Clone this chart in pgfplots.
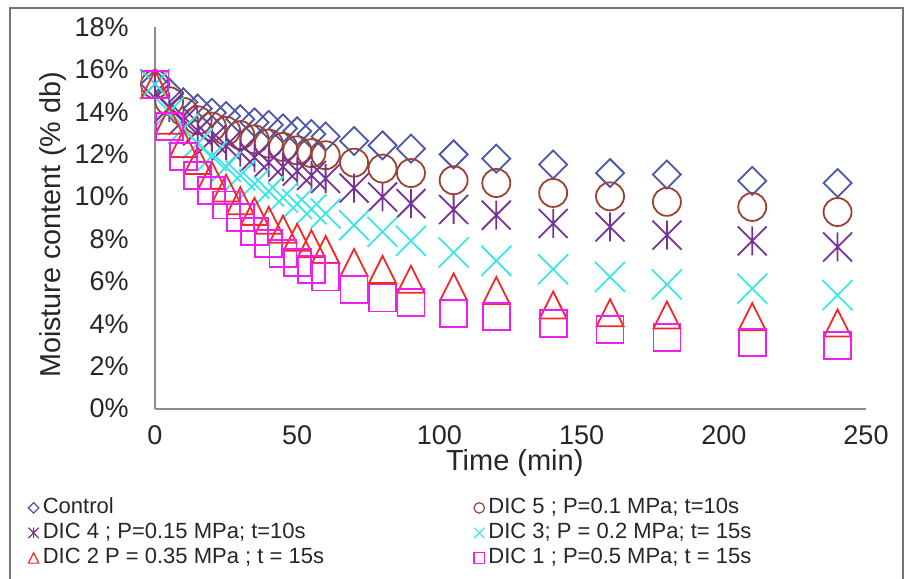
\documentclass[border=0pt]{standalone}
\usepackage{fontspec}
\setmainfont{Liberation Sans}
\usepackage{pgfplots}
\pgfplotsset{compat=1.18}
\usepackage{pgfplotstable}

\pgfdeclareplotmark{mydiamond}{%
  \pgfpathmoveto{\pgfqpoint{0pt}{\pgfplotmarksize}}%
  \pgfpathlineto{\pgfqpoint{\pgfplotmarksize}{0pt}}%
  \pgfpathlineto{\pgfqpoint{0pt}{-\pgfplotmarksize}}%
  \pgfpathlineto{\pgfqpoint{-\pgfplotmarksize}{0pt}}%
  \pgfpathclose\pgfusepathqstroke}
\pgfdeclareplotmark{mytri}{%
  \pgfpathmoveto{\pgfqpoint{0pt}{\pgfplotmarksize}}%
  \pgfpathlineto{\pgfqpoint{\pgfplotmarksize}{-\pgfplotmarksize}}%
  \pgfpathlineto{\pgfqpoint{-\pgfplotmarksize}{-\pgfplotmarksize}}%
  \pgfpathclose\pgfusepathqstroke}
\pgfdeclareplotmark{mystar}{%
  \pgfpathmoveto{\pgfqpoint{0pt}{\pgfplotmarksize}}%
  \pgfpathlineto{\pgfqpoint{0pt}{-\pgfplotmarksize}}%
  \pgfpathmoveto{\pgfqpoint{\pgfplotmarksize}{\pgfplotmarksize}}%
  \pgfpathlineto{\pgfqpoint{-\pgfplotmarksize}{-\pgfplotmarksize}}%
  \pgfpathmoveto{\pgfqpoint{-\pgfplotmarksize}{\pgfplotmarksize}}%
  \pgfpathlineto{\pgfqpoint{\pgfplotmarksize}{-\pgfplotmarksize}}%
  \pgfusepathqstroke}
\pgfdeclareplotmark{myx}{%
  \pgfpathmoveto{\pgfqpoint{\pgfplotmarksize}{\pgfplotmarksize}}%
  \pgfpathlineto{\pgfqpoint{-\pgfplotmarksize}{-\pgfplotmarksize}}%
  \pgfpathmoveto{\pgfqpoint{-\pgfplotmarksize}{\pgfplotmarksize}}%
  \pgfpathlineto{\pgfqpoint{\pgfplotmarksize}{-\pgfplotmarksize}}%
  \pgfusepathqstroke}

\definecolor{cctrl}{RGB}{75,85,170}
\definecolor{cd5}{RGB}{155,65,50}
\definecolor{cd4}{RGB}{120,50,150}
\definecolor{cd3}{RGB}{60,230,230}
\definecolor{cd2}{RGB}{245,40,40}
\definecolor{cd1}{RGB}{240,30,240}

\pgfplotstableread{
t   ctrl  d5    d4    d3    d2    d1
0   15.3  15.3  15.3  15.3  15.3  15.3
5   14.9  14.5  14.2  14.0  13.6  13.3
10  14.45 14.0  13.6  13.2  12.5  11.9
15  14.15 13.6  13.1  12.5  11.7  11.0
20  13.95 13.3  12.7  11.9  11.0  10.3
25  13.8  13.1  12.4  11.4  10.4  9.6
30  13.65 12.9  12.1  11.0  9.8   9.0
35  13.5  12.7  11.85 10.6  9.3   8.35
40  13.38 12.5  11.6  10.25 8.88  7.8
45  13.22 12.34 11.4  9.95  8.46  7.3
50  13.08 12.18 11.2  9.65  8.08  6.9
55  12.95 12.05 11.0  9.4   7.78  6.55
60  12.83 11.95 10.85 9.2   7.5   6.2
70  12.62 11.6  10.4  8.65  6.89  5.62
80  12.42 11.32 9.98  8.33  6.56  5.21
90  12.26 11.11 9.67  7.91  6.10  4.99
105 11.99 10.77 9.39  7.36  5.74  4.49
120 11.79 10.64 9.12  6.97  5.57  4.35
140 11.51 10.17 8.73  6.57  4.88  4.00
160 11.11 10.01 8.57  6.21  4.52  3.71
180 11.04 9.75  8.18  5.85  4.41  3.36
210 10.74 9.51  7.91  5.66  4.33  3.12
240 10.64 9.27  7.62  5.35  4.03  2.99
}\datatable

\begin{document}
\begin{tikzpicture}
\useasboundingbox (0,0) rectangle (454.5pt,289pt);
\draw[black!55, line width=0.8pt] (5pt,-1pt) -- (5pt,285pt) -- (451.5pt,285pt) -- (451.5pt,-1pt);
\begin{axis}[
  at={(77.5pt,84.75pt)}, anchor=south west,
  scale only axis, width=355.5pt, height=190.75pt,
  xmin=0, xmax=250, ymin=0, ymax=18,
  axis x line*=bottom, axis y line*=left,
  axis line style={-, draw=black!45, line width=1pt},
  xtick={0,50,100,150,200,250},
  xticklabels={0,50,100,150,200,250},
  ytick={0,2,4,6,8,10,12,14,16,18},
  yticklabels={0\%,2\%,4\%,6\%,8\%,10\%,12\%,14\%,16\%,18\%},
  major tick length=0pt, tick style={draw=none},
  tick label style={font=\fontsize{13.5}{16}\selectfont, text=black!85},
  yticklabel style={inner sep=0pt, anchor=east, xshift=-13pt},
  xticklabel style={inner sep=0pt, anchor=north, yshift=-8.5pt},
  clip=false,
  xlabel={Time (min)},
  ylabel={Moisture content (\% db)},
  xlabel style={at={(axis description cs:0.506,-0.142)}, anchor=center, inner sep=0pt, font=\fontsize{14.5}{17}\selectfont, text=black!85},
  ylabel style={at={(axis description cs:-0.1435,0.481)}, anchor=center, inner sep=0pt, font=\fontsize{14.4}{17}\selectfont, text=black!85},
  legend columns=2,
  legend cell align=left,
  legend style={draw=none, fill=none, font=\fontsize{11}{13}\selectfont, text=black!85,
    at={(axis description cs:-0.1786,-0.232)}, anchor=north west,
    inner sep=0pt,
    nodes={inner sep=0pt, text height=8pt, text depth=2.5pt},
    row sep=2pt,
    /tikz/every odd column/.append style={column sep=2pt},
    /tikz/every even column/.append style={column sep=75pt}},
  legend image code/.code={\draw[mark size=2.6pt, line width=0.6pt] plot coordinates {(0pt,0pt)};},
]
\addplot[only marks, mark=mydiamond, mark size=7pt, color=cctrl, line width=0.9pt] table[x=t,y=ctrl]{\datatable};
\addlegendentry{Control}
\addplot[only marks, mark=o, mark size=7pt, color=cd5, line width=0.9pt] table[x=t,y=d5]{\datatable};
\addlegendentry{DIC 5 ; P=0.1 MPa; t=10s}
\addplot[only marks, mark=mystar, mark size=7.25pt, color=cd4, line width=0.9pt] table[x=t,y=d4]{\datatable};
\addlegendentry{DIC 4 ; P=0.15 MPa; t=10s}
\addplot[only marks, mark=myx, mark size=7.5pt, color=cd3, line width=0.9pt] table[x=t,y=d3]{\datatable};
\addlegendentry{DIC 3; P = 0.2 MPa; t= 15s}
\addplot[only marks, mark=mytri, mark size=6.75pt, color=cd2, line width=0.9pt] table[x=t,y=d2]{\datatable};
\addlegendentry{DIC 2 P = 0.35 MPa ; t = 15s}
\addplot[only marks, mark=square, mark size=6.75pt, color=cd1, line width=0.9pt] table[x=t,y=d1]{\datatable};
\addlegendentry{DIC 1 ; P=0.5 MPa; t = 15s}
\end{axis}
\end{tikzpicture}
\end{document}
